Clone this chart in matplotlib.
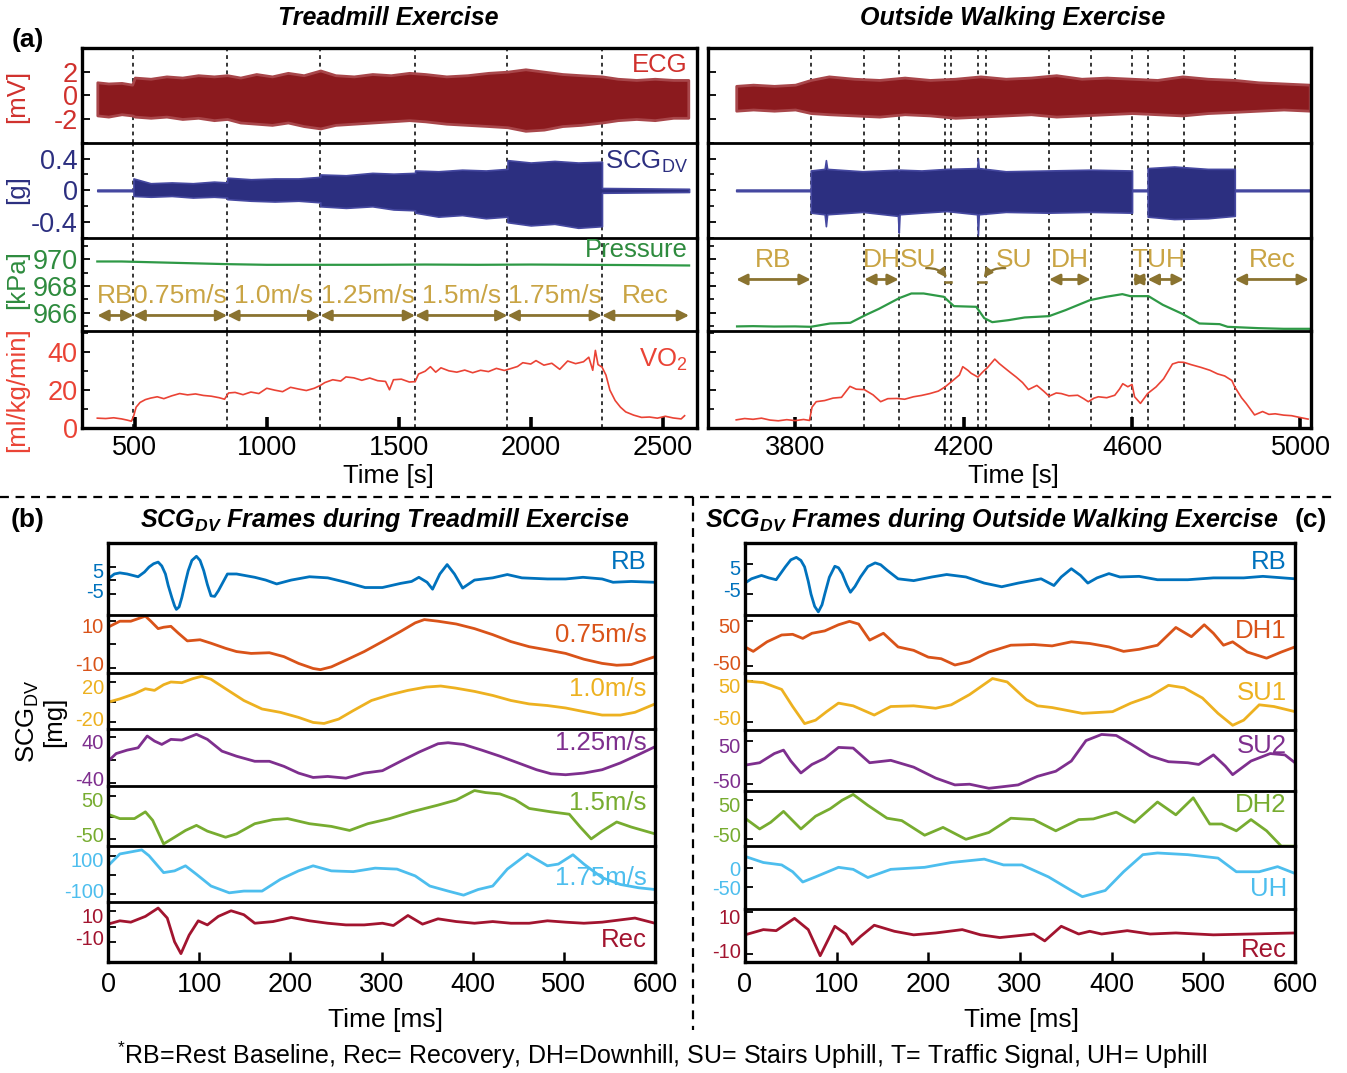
import matplotlib.pyplot as plt
from matplotlib.lines import Line2D
from matplotlib.ticker import MultipleLocator
from matplotlib.transforms import ScaledTranslation

plt.rcParams['font.family'] = ['Liberation Sans', 'DejaVu Sans']
plt.rcParams['mathtext.fontset'] = 'custom'
plt.rcParams['mathtext.rm'] = 'Liberation Sans'
plt.rcParams['mathtext.it'] = 'Liberation Sans:italic'
plt.rcParams['mathtext.bf'] = 'Liberation Sans:bold'
plt.rcParams['mathtext.bfit'] = 'Liberation Sans:italic:bold'
plt.rcParams['axes.unicode_minus'] = False

# ---------------- (a) long recordings ----------------
# treadmill
tm_ecg_t = [358, 400, 450, 490, 500, 560, 620, 680, 740, 800,
            850, 900, 960, 1020, 1080, 1140, 1203, 1260, 1330, 1400,
            1470, 1540, 1600, 1680, 1760, 1840, 1912, 1980, 2050, 2120,
            2190, 2270, 2330, 2400, 2470, 2540, 2597]
tm_ecg_hi = [1.1, 1.0, 1.05, 0.9, 1.5, 1.4, 1.6, 1.5, 1.7, 1.6,
             1.7, 1.5, 1.8, 1.6, 1.9, 1.7, 2.1, 1.7, 1.6, 1.8,
             1.7, 1.9, 1.8, 1.6, 1.7, 1.9, 2.0, 2.2, 2.0, 1.8,
             1.7, 1.6, 1.4, 1.3, 1.4, 1.3, 1.3]
tm_ecg_lo = [-1.7, -1.8, -1.6, -1.7, -1.8, -1.9, -1.8, -2.0, -1.9, -2.1,
             -2.0, -2.3, -2.4, -2.5, -2.3, -2.6, -2.8, -2.5, -2.4, -2.3,
             -2.2, -2.1, -2.2, -2.4, -2.5, -2.6, -2.7, -3.0, -2.9, -2.6,
             -2.5, -2.3, -2.1, -2.0, -2.1, -1.9, -1.9]

tm_scg_t = [358, 495, 495, 560, 640, 720, 800, 850, 850, 940,
            1030, 1120, 1203, 1203, 1300, 1400, 1480, 1562, 1562, 1650,
            1740, 1830, 1912, 1912, 2000, 2090, 2180, 2270, 2270, 2600]
tm_scg_hi = [0.01, 0.01, 0.15, 0.09, 0.10, 0.09, 0.11, 0.10, 0.16, 0.14,
             0.15, 0.15, 0.17, 0.20, 0.19, 0.22, 0.21, 0.22, 0.25, 0.24,
             0.26, 0.25, 0.27, 0.38, 0.35, 0.37, 0.35, 0.36, 0.03, 0.02]
tm_scg_lo = [-0.01, -0.01, -0.07, -0.08, -0.07, -0.09, -0.08, -0.09, -0.11, -0.13,
             -0.14, -0.13, -0.15, -0.20, -0.22, -0.20, -0.24, -0.25, -0.28, -0.33,
             -0.31, -0.35, -0.33, -0.40, -0.44, -0.42, -0.47, -0.45, -0.03, -0.02]

tm_pres_t = [358, 450, 550, 650, 750, 850, 1000, 1200, 1400, 1600, 1800, 2000, 2200, 2400, 2600]
tm_pres = [969.85, 969.85, 969.8, 969.75, 969.7, 969.65, 969.6, 969.6, 969.6, 969.62,
           969.6, 969.62, 969.6, 969.58, 969.55]

tm_vo2_t = [358, 390, 420, 450, 470, 487, 495, 505, 520, 540,
            560, 585, 610, 640, 670, 700, 730, 760, 790, 820,
            840, 855, 880, 910, 940, 970, 1000, 1030, 1060, 1090,
            1120, 1150, 1180, 1203, 1220, 1250, 1280, 1300, 1330, 1360,
            1390, 1420, 1450, 1465, 1480, 1510, 1540, 1562, 1575, 1600,
            1620, 1640, 1660, 1690, 1720, 1750, 1780, 1810, 1840, 1870,
            1900, 1920, 1950, 1970, 2000, 2020, 2050, 2080, 2110, 2140,
            2170, 2200, 2220, 2235, 2245, 2255, 2270, 2285, 2300, 2320,
            2340, 2360, 2390, 2420, 2450, 2480, 2510, 2540, 2570, 2583]
tm_vo2 = [5.2, 5.0, 5.4, 4.8, 4.2, 3.6, 6, 11, 13.5, 15,
          15.8, 16.5, 15.5, 17, 18.2, 17.5, 18, 17.2, 16.8, 16,
          15.2, 18.5, 18.8, 17.6, 19, 18.2, 21, 20, 19.2, 21.5,
          20.6, 19.8, 21, 22.5, 24, 25.5, 24.8, 27, 26.5, 25.2,
          26.4, 25, 24.6, 20.2, 25.5, 25.8, 24.3, 24.5, 28.5, 30,
          32.4, 29.5, 31.8, 30.2, 29.5, 30.6, 29.2, 30.5, 29.8, 31.5,
          30.4, 31.2, 32.5, 34.5, 33.8, 35.6, 33.2, 34.2, 31, 35.4,
          34, 35, 37.4, 30.5, 41, 33.5, 32.2, 28, 20, 14.5,
          11, 8.5, 6.8, 5.6, 5.8, 5.2, 6.2, 5.3, 4.8, 6.5]

tm_edges = [358, 495, 850, 1203, 1562, 1912, 2270, 2600]
tm_stages = ['RB', '0.75m/s', '1.0m/s', '1.25m/s', '1.5m/s', '1.75m/s', 'Rec']

# outside walking
wk_ecg_t = [3660, 3700, 3750, 3800, 3837, 3880, 3940, 4000, 4060, 4120,
            4180, 4240, 4300, 4360, 4420, 4480, 4540, 4600, 4660, 4720,
            4780, 4844, 4900, 4960, 5022]
wk_ecg_hi = [0.8, 0.9, 0.8, 0.9, 1.3, 1.6, 1.4, 1.3, 1.5, 1.3,
             1.4, 1.6, 1.4, 1.5, 1.7, 1.4, 1.5, 1.4, 1.3, 1.6,
             1.4, 1.3, 1.1, 1.0, 0.9]
wk_ecg_lo = [-1.3, -1.2, -1.3, -1.2, -1.5, -1.6, -1.7, -1.8, -1.6, -1.7,
             -1.9, -1.8, -1.7, -1.6, -1.8, -1.7, -1.6, -1.5, -1.6, -1.7,
             -1.5, -1.4, -1.3, -1.2, -1.3]

wk_scg_t = [3660, 3837, 3837, 3870, 3873, 3876, 3960, 4044, 4046, 4048,
            4100, 4160, 4232, 4234, 4236, 4300, 4400, 4500, 4600, 4600,
            4637, 4637, 4700, 4780, 4844, 4844, 5022]
wk_scg_hi = [0.01, 0.01, 0.25, 0.27, 0.38, 0.27, 0.24, 0.26, 0.25, 0.26,
             0.25, 0.27, 0.28, 0.40, 0.28, 0.24, 0.25, 0.26, 0.25, 0.01,
             0.01, 0.28, 0.30, 0.27, 0.27, 0.01, 0.01]
wk_scg_lo = [-0.01, -0.01, -0.28, -0.30, -0.45, -0.30, -0.27, -0.32, -0.53, -0.30,
             -0.28, -0.26, -0.30, -0.56, -0.30, -0.27, -0.28, -0.27, -0.28, -0.01,
             -0.01, -0.33, -0.36, -0.35, -0.32, -0.01, -0.01]

wk_pres_t = [3662, 3700, 3750, 3800, 3837, 3883, 3931, 3965, 3999, 4047,
             4076, 4105, 4153, 4177, 4230, 4249, 4268, 4307, 4345, 4403,
             4442, 4500, 4538, 4577, 4596, 4639, 4673, 4721, 4760, 4808,
             4827, 4900, 4960, 5020]
wk_pres = [964.98, 965.0, 964.97, 964.98, 964.95, 965.2, 965.25, 965.8, 966.3, 967.1,
           967.45, 967.45, 967.2, 966.5, 966.45, 965.6, 965.3, 965.45, 965.65, 965.75,
           966.2, 966.95, 967.2, 967.4, 967.25, 967.25, 966.6, 965.9, 965.2, 965.15,
           964.95, 964.85, 964.8, 964.8]

wk_vo2_t = [3660, 3680, 3700, 3720, 3740, 3760, 3780, 3800, 3820, 3834,
            3840, 3850, 3870, 3890, 3910, 3930, 3945, 3964, 3985, 4003,
            4020, 4042, 4060, 4081, 4100, 4120, 4140, 4156, 4174, 4190,
            4198, 4210, 4218, 4234, 4245, 4257, 4274, 4285, 4296, 4310,
            4325, 4340, 4354, 4374, 4390, 4403, 4420, 4432, 4450, 4471,
            4485, 4496, 4510, 4520, 4540, 4559, 4570, 4578, 4590, 4600,
            4606, 4620, 4637, 4657, 4675, 4696, 4710, 4723, 4740, 4764,
            4785, 4803, 4820, 4837, 4844, 4860, 4871, 4891, 4910, 4925,
            4940, 4960, 4979, 5000, 5018]
wk_vo2 = [4.3, 5.0, 4.6, 5.2, 4.2, 3.8, 4.4, 3.9, 4.5, 4.0,
          11, 13.9, 14.5, 15.8, 16.2, 22, 20.5, 20.3, 17.5, 13.9,
          15.5, 15.6, 15.2, 16.5, 17.2, 18.2, 19.5, 21.7, 25, 28,
          32.4, 30.5, 28.9, 26.9, 29.5, 32, 36.4, 34, 32, 29.5,
          26.9, 24, 20.3, 22.5, 19.5, 16.8, 18.5, 18.2, 17, 17.3,
          15.5, 13.9, 15.8, 16.5, 16, 17.3, 20.5, 23.4, 21.8, 23,
          16.5, 13, 18.2, 21.7, 26, 33.8, 34.8, 34.7, 33.5, 32,
          30.5, 28.6, 27.5, 25.1, 21.7, 16, 13, 6.9, 8.7, 7.2,
          7.5, 6.8, 6.5, 5.5, 4.7]

wk_bounds = [3837, 3964, 4046, 4156, 4171, 4234, 4254, 4403, 4502, 4600, 4637, 4723, 4844]
wk_seg_start = [3660, 3964, 4403, 4600, 4637, 4844]
wk_seg_end = [3837, 4046, 4502, 4637, 4723, 5020]
wk_seg_lab = ['RB', 'DH', 'DH', 'T', 'UH', 'Rec']
su_start = [4156, 4234]
su_end = [4171, 4254]

# ---------------- (b) treadmill SCG frames [mg] ----------------
b_rb_t = [0, 7, 13, 21, 33, 40, 45, 50, 55, 59, 63, 66, 70, 73, 75, 78, 81, 85, 88, 92,
          97, 101, 105, 109, 113, 117, 121, 131, 141,
          161, 173, 185, 201, 221, 241, 261, 282, 301, 321, 333, 341, 350, 356, 364,
          372, 380, 389, 402, 422, 438, 454, 482, 502, 521, 542, 554, 574, 600]
b_rb_v = [0.5, 2.3, 2.7, 2.3, 1.3, 3.0, 4.8, 6.0, 6.6, 5.2, 2.3, -1.8, -6.2, -9.2, -10.5, -9.6,
          -6.2, -0.5, 3.5, 7.2, 8.7, 7.2, 3.5, -1.5, -5.6, -5.8, -3.8, 2.3, 2.3,
          1.1, 0.1, -1.3, 0.1, 1.3, 0.9, -0.7, -2.6, -2.6, -1.1, -0.4, 1.1, -0.7, -3.2, 2.3,
          5.7, 2.3, -2.8, 0.1, 0.9, 2.1, 0.9, 0.5, 0.5, 1.1, 0.5, -0.7, -0.4, -0.7]
b_075_t = [0, 13, 25, 41, 47, 55, 61, 69, 77, 87, 101, 113, 129, 141, 157, 177, 193, 209, 225, 233,
           245, 261, 281, 301, 321, 337, 347, 362, 382, 402, 422, 442, 462, 482, 502, 522, 542,
           558, 574, 600]
b_075_v = [7.4, 10, 10, 12.2, 10, 6.8, 7.4, 7.8, 4.9, 1.5, 2.0, 0.5, -1.7, -3.1, -3.9, -3.6, -5.3,
           -8.2, -10.4, -10.9, -9.7, -6.8, -3.1, 1.2, 5.6, 9.3, 10.7, 10, 8.8, 6.8, 4.2, 1.2, -1,
           -2.4, -3.9, -6.4, -8.2, -9, -8.7, -5.3]
b_10_t = [0, 13, 29, 41, 51, 61, 69, 81, 93, 103, 113, 129, 149, 169, 189, 209, 225, 237, 253, 269,
          289, 309, 329, 349, 365, 381, 402, 422, 442, 462, 482, 502, 522, 542, 562, 578, 600]
b_10_v = [0, 3.3, 8.3, 13.3, 11.7, 17.3, 20, 19.3, 23.3, 25.7, 22.7, 13.3, 1.7, -6.7, -10, -15, -20,
          -21, -16.7, -8.3, 1.7, 7.3, 11.7, 15, 16, 14, 10.7, 6.7, 1.7, -1.7, -3.3, -5.7, -9.3,
          -12.7, -12.7, -10, -1.7]
b_125_t = [0, 9, 21, 33, 43, 51, 59, 69, 81, 97, 109, 125, 141, 161, 177, 193, 209, 225, 241, 261,
           281, 301, 321, 341, 362, 373, 390, 410, 430, 450, 470, 486, 502, 522, 542, 562, 582, 600]
b_125_v = [-1.8, 11.8, 17.8, 21.9, 42.6, 33.7, 27.8, 36.7, 35.5, 45.6, 36.7, 16, 7.1, -1.8, -1.8,
           -10.7, -22.5, -30.2, -28.4, -31.4, -22.5, -18.3, -1.8, 14.2, 29, 30.8, 27.8, 17.8, 7.1,
           -4.7, -16.6, -23.7, -25.4, -22.5, -16.6, -4.7, 10, 23.7]
b_15_t = [0, 13, 29, 41, 49, 61, 73, 85, 97, 109, 129, 141, 161, 181, 197, 221, 245, 265, 285, 309,
          333, 362, 382, 402, 414, 430, 446, 462, 486, 506, 518, 530, 542, 558, 574, 600]
b_15_v = [7, -3.1, -3.1, 12.6, -7.1, -62, -46.5, -30.7, -18.9, -32.3, -46.5, -38.6, -15, -5.5, -3.1,
          -15, -21.3, -30.7, -15, -3.1, 12.6, 28.3, 40.2, 62.2, 57.5, 54.3, 41.7, 20.5, 12.6, 7.1,
          -22.8, -50.4, -32.3, -11, -22.8, -38.6]
b_175_t = [0, 13, 37, 45, 61, 73, 85, 97, 113, 133, 149, 169, 189, 209, 225, 245, 269, 293, 317, 337,
           353, 373, 390, 406, 422, 438, 460, 482, 494, 510, 522, 542, 562, 582, 600]
b_175_v = [47, 108, 129, 99, 12, 21, 47, 3.5, -57, -92, -83, -83, -23, 21, 47, 21, 17, 35, 30, -5,
           -57, -83, -104, -75, -57, 30, 108, 47, 56, 104, 56, -14, -49, -66, -75]
b_rec_t = [0, 13, 25, 41, 55, 65, 73, 80, 89, 99, 109, 121, 135, 149, 161, 181, 201, 221, 241, 261,
           281, 301, 313, 329, 345, 362, 382, 402, 422, 442, 462, 482, 502, 522, 542, 562, 578, 600]
b_rec_v = [1.6, 3.8, 2.9, 6.7, 12.2, 5.6, -10, -17.8, -5.6, 3.8, 1.1, 6.7, 10.4, 7.8, 2.2, 3.3, 6,
           3.8, 2.2, 1.1, 1.1, 2.2, 0.7, 7.3, 1.6, 5.1, 3.3, 2.2, 3.3, 2.2, 2.2, 3.8, 2.9, 2.2, 2.9,
           4.4, 5.6, 2.2]

# ---------------- (c) outside walking SCG frames [mg] ----------------
c_rb_t = [0, 7, 18, 26, 34, 44, 50, 56, 61, 65, 69, 72, 76, 80, 84, 87, 92, 98, 102, 106,
          111, 115, 120, 126, 134, 142, 148, 155, 167, 184, 204, 220, 241, 261, 280, 298,
          323, 337, 345, 356, 366, 374, 384, 397, 409, 430, 450, 483, 511, 544, 565, 600]
c_rb_v = [-1.4, 0, 1.1, 0.3, -0.3, 3.9, 6.2, 7, 6.0, 3.9, -0.8, -5, -9, -10.8, -8.5, -5, 0.5, 4.1,
          3.6, 1.7, -2, -4.4, -2.5, 0.6, 4, 5.2, 4.6, 2.8, 0, -0.6, 0.6, 1.4, 0.6, -1.4, -2.6, -1.4,
          0, -2.2, 0.6, 3.3, 1.1, -1.4, 0.3, 1.7, 0.6, 0.8, -0.3, -0.3, 0.3, 0.3, 0.8, 0]
c_dh1_t = [0, 9, 24, 40, 52, 63, 73, 87, 102, 114, 124, 136, 151, 167, 184, 200, 214, 229, 245, 266,
           290, 315, 335, 356, 376, 397, 413, 430, 450, 470, 487, 501, 511, 522, 532, 548, 569, 585, 600]
c_dh1_v = [-6.8, -16.7, 4.5, 19.7, 21.2, 12.1, 23.5, 28.8, 42.4, 50, 44, 8.3, 23.5, -6.8, -14.4,
           -29.5, -33, -47, -39.4, -18.2, -3, -1.5, -4.5, 4.5, 0.8, -6.8, -16.7, -12.1, -3, 36.4,
           15.9, 42.4, 23.5, -3, 4.5, -18.2, -31.8, -18.2, -6.8]
c_su1_t = [0, 20, 40, 52, 65, 77, 89, 102, 118, 141, 159, 184, 208, 225, 245, 270, 286, 307, 319, 335,
           368, 401, 421, 442, 462, 479, 499, 516, 532, 544, 561, 577, 600]
c_su1_v = [50, 45.8, 29.2, -12.5, -54.2, -45.8, -25, -4.2, -10.8, -33.3, -12.5, -10.8, -16.7, -8.3,
           16.7, 55.8, 47.5, 4.2, -10.8, -15, -29.2, -25, -4.2, 12.5, 39.2, 33.3, 8.3, -29.2, -58.3,
           -45.8, -8.3, -12.5, -25]
c_su2_t = [0, 16, 32, 42, 50, 61, 73, 87, 102, 118, 136, 159, 184, 208, 229, 245, 266, 282, 298, 319,
           339, 356, 372, 389, 405, 421, 442, 462, 483, 495, 511, 524, 532, 552, 573, 589, 600]
c_su2_v = [-5.6, 0, 21.4, 29.4, 4, -23.8, -4, 10.3, 35.7, 34.1, 0, 5.6, -10.3, -35.7, -51.6, -50,
           -59.5, -55.6, -51.6, -31.7, -19.8, 4, 51.6, 65.9, 63.5, 43.7, 15.9, 2.4, 0, -4, 18.3,
           -7.9, -27.8, 4, 21.4, 18.3, 0]
c_dh2_t = [0, 16, 28, 42, 61, 77, 93, 106, 118, 134, 155, 171, 196, 216, 241, 266, 290, 315, 339, 364,
           380, 405, 425, 450, 470, 489, 507, 520, 536, 552, 569, 585, 600]
c_dh2_v = [3.5, -24, -7, 21, -24, 8.7, 27.8, 49.6, 64.3, 36.5, 3.5, -2.6, -40, -20, -50.4, -33, 3.5,
           0, -28.7, 0, 1.7, 19, -7, 45, 12.2, 55.7, -11.3, -11.3, -28.7, 0, -28.7, -67.8, -67.8]
c_uh_t = [0, 20, 40, 52, 63, 77, 102, 118, 134, 159, 196, 225, 261, 282, 302, 331, 356, 368, 393, 413,
          434, 450, 483, 516, 536, 561, 581, 600]
c_uh_v = [31.8, 15.5, 9.1, -9.1, -36.4, -22.7, 2.7, -2.7, -24.5, -2.7, 2.7, 15.5, 24.5, 9.1, 9.1,
          -22.7, -59, -75.5, -59, -9.1, 36.4, 40.9, 36.4, 27.3, -9.1, -9.1, 4.5, -13.6]
c_rec_t = [0, 20, 34, 54, 69, 82, 98, 110, 117, 126, 141, 163, 184, 208, 237, 257, 278, 307, 315, 327,
           345, 364, 376, 389, 417, 442, 470, 511, 552, 600]
c_rec_v = [-0.7, 1.8, 1.3, 7.2, 1.8, -10.7, 3.4, -0.3, -5.2, -1.5, 3.9, 1, -0.7, 0.2, 1.8, -0.7, -2,
           -0.7, -0.3, -3.6, 3.4, -0.3, 1, -0.3, 1.3, -0.3, 0.2, -0.7, -0.3, 0.2]

b_labels = ['RB', '0.75m/s', '1.0m/s', '1.25m/s', '1.5m/s', '1.75m/s', 'Rec']
c_labels = ['RB', 'DH1', 'SU1', 'SU2', 'DH2', 'UH', 'Rec']
b_ticks = [5, 10, 20, 40, 50, 100, 10]
c_ticks = [(-5, 5), (-50, 50), (-50, 50), (-50, 50), (-50, 50), (-50, 0), (-10, 10)]

# ---------------- figure ----------------
W, H = 1347, 1073
fig = plt.figure(figsize=(W / 100, H / 100), dpi=100)

mcol = ['#0072BD', '#D95319', '#EDB120', '#7E2F8E', '#77AC30', '#4DBEEE', '#A2142F']
c_ecg, c_ecg_txt = '#8B1A1E', '#D0312D'
c_scg = '#2C2F80'
c_pres, c_pres_txt = '#2E9946', '#2E8B3E'
c_vo2 = '#EA4335'
c_gold, c_arr = '#C9A444', '#8A7330'
FS = 18.5   # main text size


def stack(l, t, r, b, ratios):
    tot = float(sum(ratios))
    axs, y = [], t
    for q in ratios:
        h = (b - t) * q / tot
        ax = fig.add_axes([l / W, 1 - (y + h) / H, (r - l) / W, h / H],
                          sharex=axs[0] if axs else None)
        axs.append(ax)
        y += h
    return axs


def style(axs, lw=2.4):
    n = len(axs)
    for k, ax in enumerate(axs):
        ax.set_facecolor('none')
        ax.spines['left'].set_linewidth(lw)
        ax.spines['right'].set_linewidth(lw)
        if k == 0:
            ax.spines['top'].set_linewidth(lw)
        else:
            ax.spines['top'].set_linewidth(2.0)
            ax.spines['top'].set_linestyle((0, (1, 1)))
        ax.spines['bottom'].set_visible(k == n - 1)
        ax.spines['bottom'].set_linewidth(lw)
        ax.tick_params(which='both', direction='in', top=False, right=False)
        ax.tick_params(axis='x', which='both', bottom=(k == n - 1), labelbottom=(k == n - 1))
        ax.tick_params(which='major', length=6, width=1.3)
        ax.tick_params(which='minor', length=4, width=1.2)


def nudge_ylabels(ax, shift=3.0):
    # pull the two outer tick labels of a strip slightly towards its middle
    labs = [lab for lab in ax.get_yticklabels() if lab.get_text()]
    ticks = [tk for tk, lab in zip(ax.get_yticks(), ax.get_yticklabels()) if lab.get_text()]
    for tk, lab in zip(ticks, labs):
        dy = -shift if tk > 0 else shift
        lab.set_transform(lab.get_transform() + ScaledTranslation(0, dy / 72, fig.dpi_scale_trans))


top_ratios = [94.7, 95.6, 93.4, 96.6]
axL = stack(82, 48, 697, 428, top_ratios)
axR = stack(708, 48, 1311, 428, top_ratios)
style(axL)
style(axR)

panels = [
    (axL, tm_ecg_t, tm_ecg_lo, tm_ecg_hi, tm_scg_t, tm_scg_lo, tm_scg_hi,
     tm_pres_t, tm_pres, tm_vo2_t, tm_vo2, tm_edges[1:-1], (300, 2630)),
    (axR, wk_ecg_t, wk_ecg_lo, wk_ecg_hi, wk_scg_t, wk_scg_lo, wk_scg_hi,
     wk_pres_t, wk_pres, wk_vo2_t, wk_vo2, wk_bounds, (3593, 5025)),
]
for (axs, et, elo, ehi, st, slo, shi, pt, pv, vt, vv, bounds, xl) in panels:
    a_ecg, a_scg, a_pres, a_vo2 = axs
    a_ecg.fill_between(et, elo, ehi, color=c_ecg, lw=2.0, edgecolor='#A8464A')
    a_scg.fill_between(st, slo, shi, color=c_scg, lw=1.2, edgecolor='#4548A0')
    a_pres.plot(pt, pv, color=c_pres, lw=1.6)
    a_vo2.plot(vt, vv, color=c_vo2, lw=1.2)
    for ax in axs:
        for x in bounds:
            ax.axvline(x, color='k', lw=1.1, ls=(0, (2.5, 2.5)), zorder=0.5)
    a_ecg.set_ylim(-4, 4)
    a_ecg.set_yticks([-2, 0, 2])
    a_scg.set_ylim(-0.6, 0.6)
    a_scg.set_yticks([-0.4, 0, 0.4])
    a_scg.yaxis.set_minor_locator(MultipleLocator(0.2))
    a_pres.set_ylim(964.6, 971.6)
    a_pres.set_yticks([966, 968, 970])
    a_pres.yaxis.set_minor_locator(MultipleLocator(1))
    a_vo2.set_ylim(0, 51)
    a_vo2.set_yticks([0, 20, 40])
    a_vo2.yaxis.set_minor_locator(MultipleLocator(10))
    a_vo2.set_xlim(*xl)
    a_vo2.tick_params(axis='x', which='major', length=8, width=2.6, labelsize=19.5, pad=5)

axL[3].set_xticks([500, 1000, 1500, 2000, 2500])
axR[3].set_xticks([3800, 4200, 4600, 5000])

ycols = [c_ecg_txt, c_scg, c_pres_txt, c_vo2]
for ax, c in zip(axL, ycols):
    ax.tick_params(axis='y', labelsize=19.5, labelcolor=c, pad=3)
axL[1].set_yticklabels(['-0.4', '0', '0.4'])
for ax in axR:
    ax.tick_params(axis='y', labelleft=False)

# section names
axL[0].text(0.985, 0.82, 'ECG', color=c_ecg_txt, fontsize=FS, ha='right', va='center', transform=axL[0].transAxes)
axL[1].text(0.985, 0.8, r'SCG$_{\rm DV}$', color=c_scg, fontsize=FS, ha='right', va='center', transform=axL[1].transAxes)
axL[2].text(0.985, 0.875, 'Pressure', color=c_pres_txt, fontsize=FS, ha='right', va='center', transform=axL[2].transAxes)
axL[3].text(0.985, 0.71, r'VO$_2$', color=c_vo2, fontsize=FS, ha='right', va='center', transform=axL[3].transAxes)

# stage arrows, treadmill
arrow_kw = dict(arrowstyle='<|-|>', color=c_arr, lw=2.0, mutation_scale=16, shrinkA=0, shrinkB=0)
for k, lab in enumerate(tm_stages):
    x0, x1 = tm_edges[k], tm_edges[k + 1]
    axL[2].annotate('', xy=(x1, 965.8), xytext=(x0, 965.8), arrowprops=arrow_kw)
    axL[2].text((x0 + x1) / 2, 967.25, lab, color=c_gold, fontsize=19, ha='center', va='center')

# stage arrows, outside walking
for x0, x1, lab in zip(wk_seg_start, wk_seg_end, wk_seg_lab):
    axR[2].annotate('', xy=(x1, 968.5), xytext=(x0, 968.5), arrowprops=arrow_kw)
    axR[2].text((x0 + x1) / 2, 969.95, lab, color=c_gold, fontsize=19, ha='center', va='center')
for k, (x0, x1) in enumerate(zip(su_start, su_end)):
    side = -1 if k == 0 else 1
    tx = (x0 if k == 0 else x1) + side * 65
    axR[2].text(tx, 969.95, 'SU', color=c_gold, fontsize=19, ha='center', va='center')
    axR[2].plot([x0, x1], [968.3, 968.3], color=c_arr, lw=1.8)
    axR[2].annotate('', xy=((x0 + x1) / 2, 968.45), xytext=(tx - side * 20, 969.35),
                    arrowprops=dict(arrowstyle='-|>', color=c_arr, lw=1.6, mutation_scale=13,
                                    connectionstyle='arc3,rad=%.1f' % (0.3 * side), shrinkA=0, shrinkB=2))

# labels and titles for (a)
fig.text(388 / W, 1 - 18 / H, 'Treadmill Exercise', fontsize=18, fontweight='bold', style='italic', ha='center', va='center')
fig.text(1013 / W, 1 - 18 / H, 'Outside Walking Exercise', fontsize=18, fontweight='bold', style='italic', ha='center', va='center')
fig.text(28 / W, 1 - 40 / H, '(a)', fontsize=19, fontweight='bold', ha='center', va='center')
fig.text(17 / W, 1 - 96 / H, '[mV]', color=c_ecg_txt, fontsize=FS, rotation=90, ha='center', va='center')
fig.text(17 / W, 1 - 190 / H, '[g]', color=c_scg, fontsize=FS, rotation=90, ha='center', va='center')
fig.text(17 / W, 1 - 280 / H, '[kPa]', color=c_pres_txt, fontsize=FS, rotation=90, ha='center', va='center')
fig.text(17 / W, 1 - 390 / H, '[ml/kg/min]', color=c_vo2, fontsize=FS, rotation=90, ha='center', va='center')
fig.text(388 / W, 1 - 476 / H, 'Time [s]', fontsize=FS, ha='center', va='center')
fig.text(1013 / W, 1 - 476 / H, 'Time [s]', fontsize=FS, ha='center', va='center')

# separators between (a), (b), (c)
fig.add_artist(Line2D([0.0, 0.99], [1 - 497 / H] * 2, transform=fig.transFigure, color='k', lw=1.6, ls=(0, (4, 3))))
fig.add_artist(Line2D([693 / W] * 2, [1 - 497 / H, 1 - 1030 / H], transform=fig.transFigure, color='k', lw=1.6, ls=(0, (4, 3))))

# ---------------- (b) and (c) ----------------
axB = stack(108, 543, 655, 962, [214, 171, 167, 168, 177, 167, 178])
axC = stack(745, 543, 1295, 962, [212, 170, 166, 179, 163, 183, 157])
style(axB)
style(axC)

b_series = [(b_rb_t, b_rb_v), (b_075_t, b_075_v), (b_10_t, b_10_v), (b_125_t, b_125_v),
            (b_15_t, b_15_v), (b_175_t, b_175_v), (b_rec_t, b_rec_v)]
c_series = [(c_rb_t, c_rb_v), (c_dh1_t, c_dh1_v), (c_su1_t, c_su1_v), (c_su2_t, c_su2_v),
            (c_dh2_t, c_dh2_v), (c_uh_t, c_uh_v), (c_rec_t, c_rec_v)]
b_ylims = [(-12.6, 13.5), (-12.3, 12.6), (-26.7, 29), (-45, 54.5), (-66, 73), (-139, 151), (-23.3, 16.2)]
c_ylims = [(-11.9, 11.7), (-65, 63.6), (-69, 69), (-65, 77), (-68, 74), (-107, 59), (-13.7, 11.9)]
b_lab_y = [0.73, 0.66, 0.72, 0.76, 0.72, 0.43, 0.37]
c_lab_y = [0.74, 0.73, 0.65, 0.74, 0.75, 0.32, 0.22]

for k in range(7):
    ax = axB[k]
    t, v = b_series[k]
    ax.plot(t, v, color=mcol[k], lw=2.0, solid_joinstyle='round')
    ax.set_ylim(*b_ylims[k])
    a = b_ticks[k]
    ax.set_yticks([-a, 0, a], ['-%d' % a, '', '%d' % a])
    ax.tick_params(axis='y', labelsize=14.5, labelcolor=mcol[k], pad=3)
    nudge_ylabels(ax)
    ax.text(0.985, b_lab_y[k], b_labels[k], color=mcol[k], fontsize=FS, ha='right', va='center', transform=ax.transAxes)

    ax = axC[k]
    t, v = c_series[k]
    ax.plot(t, v, color=mcol[k], lw=2.0, solid_joinstyle='round')
    ax.set_ylim(*c_ylims[k])
    lo, hi = c_ticks[k]
    ax.set_yticks([lo, hi], ['%d' % lo, '%d' % hi])
    ax.tick_params(axis='y', labelsize=14.5, labelcolor=mcol[k], pad=3)
    if k != 5:
        nudge_ylabels(ax)
    ax.text(0.985, c_lab_y[k], c_labels[k], color=mcol[k], fontsize=FS, ha='right', va='center', transform=ax.transAxes)

for axs in (axB, axC):
    axs[-1].set_xlim(0, 600)
    axs[-1].set_xticks([0, 100, 200, 300, 400, 500, 600])
    axs[-1].tick_params(axis='x', which='major', length=7, width=1.8, labelsize=19.5, pad=7)

fig.text(28 / W, 1 - 520 / H, '(b)', fontsize=19, fontweight='bold', ha='center', va='center')
fig.text(385 / W, 1 - 520 / H, r'SCG$_{\mathbfit{DV}}$ Frames during Treadmill Exercise',
         fontsize=18, fontweight='bold', style='italic', ha='center', va='center')
fig.text(992 / W, 1 - 520 / H, r'SCG$_{\mathbfit{DV}}$ Frames during Outside Walking Exercise',
         fontsize=18, fontweight='bold', style='italic', ha='center', va='center')
fig.text(1311 / W, 1 - 520 / H, '(c)', fontsize=19, fontweight='bold', ha='center', va='center')
fig.text(28 / W, 1 - 722 / H, r'SCG$_{\rm DV}$', fontsize=FS, rotation=90, ha='center', va='center')
fig.text(54 / W, 1 - 722 / H, '[mg]', fontsize=FS, rotation=90, ha='center', va='center')
fig.text(385 / W, 1 - 1020 / H, 'Time [ms]', fontsize=19, ha='center', va='center')
fig.text(1022 / W, 1 - 1020 / H, 'Time [ms]', fontsize=19, ha='center', va='center')
fig.text(662 / W, 1 - 1055 / H,
         r'$^{*}$RB=Rest Baseline, Rec= Recovery, DH=Downhill, SU= Stairs Uphill, T= Traffic Signal, UH= Uphill',
         fontsize=18, ha='center', va='center')

fig.savefig('out.png', dpi=100)
